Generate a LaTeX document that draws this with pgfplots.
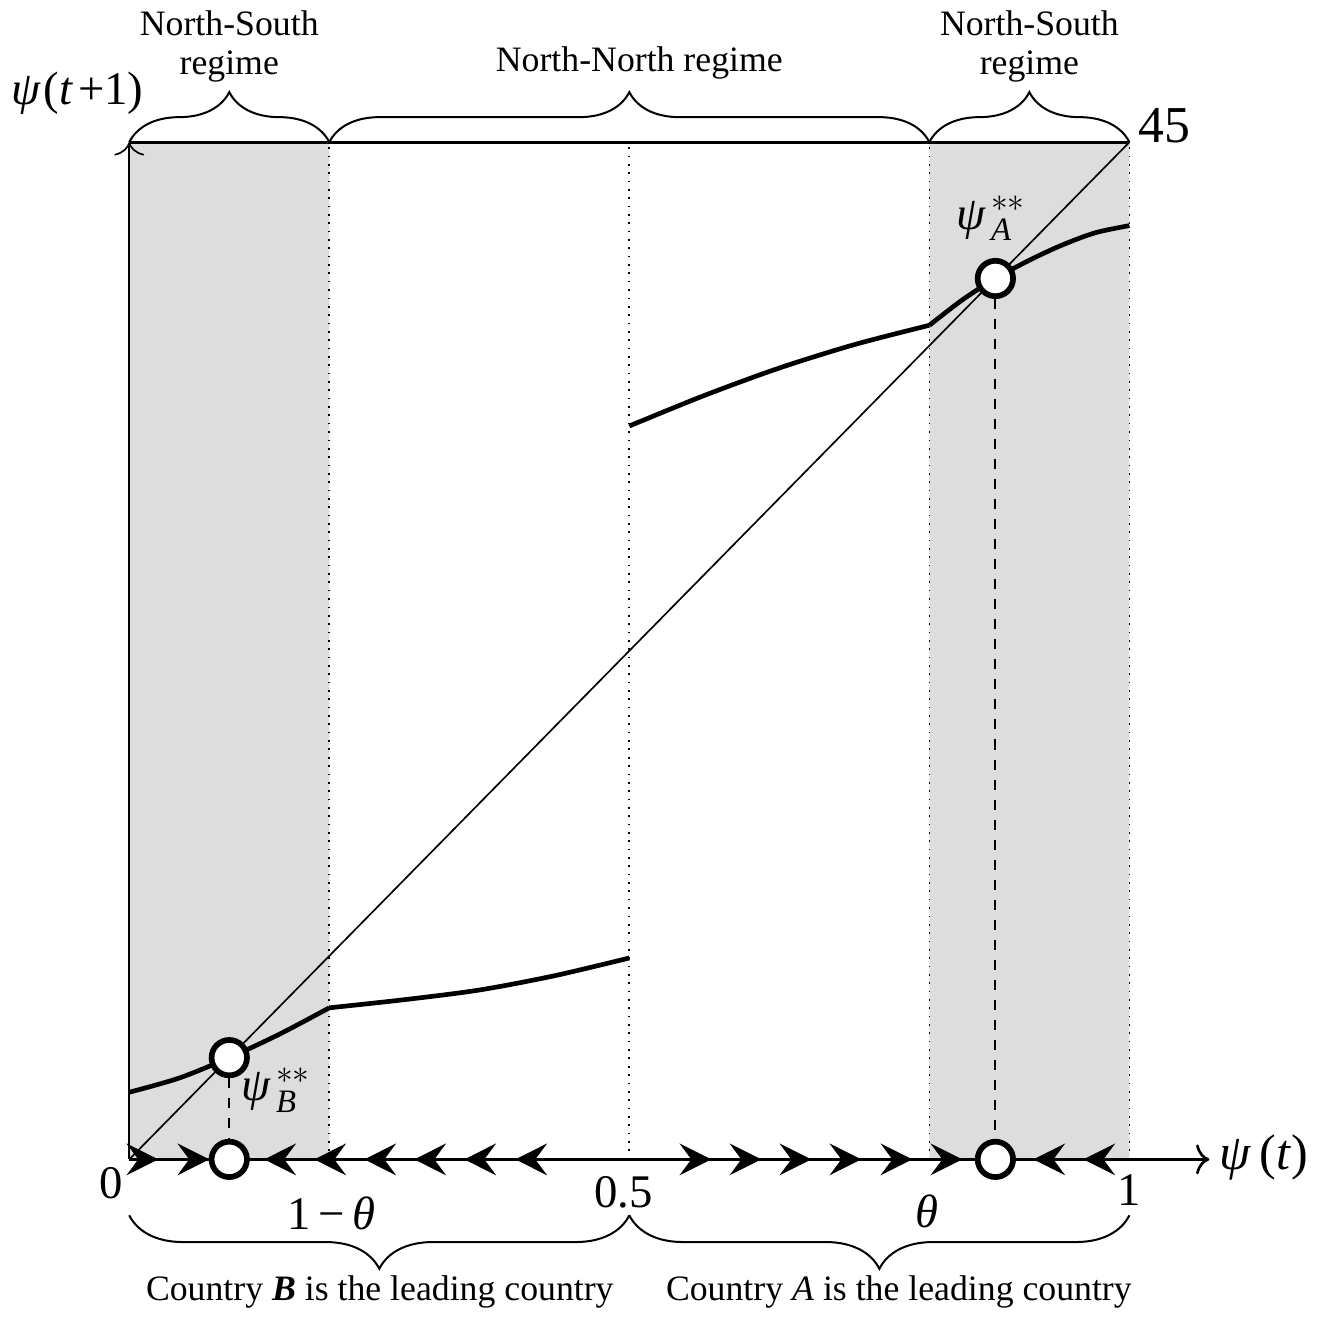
\documentclass[border=0pt]{standalone}
\usepackage{fontspec}
\setmainfont{Liberation Serif}
\usepackage{amsmath}
\usepackage{pgfplots}
\pgfplotsset{compat=1.18}
\usetikzlibrary{arrows.meta,decorations.pathreplacing}
\definecolor{shade}{RGB}{221,221,221}

\newcommand{\lbig}{\fontsize{14}{16}\selectfont}
\newcommand{\lmid}{\fontsize{10.7}{12.5}\selectfont}

\begin{document}
\begin{tikzpicture}
\begin{axis}[
    x=299.4pt, y=304.5pt,
    xmin=0, xmax=1, ymin=0, ymax=1,
    hide axis, clip=false,
]
% shaded North-South regimes
\addplot[fill=shade, draw=none] coordinates {(0,0) (0,1) (0.2,1) (0.2,0)} \closedcycle;
\addplot[fill=shade, draw=none] coordinates {(0.8,0) (0.8,1) (1,1) (1,0)} \closedcycle;

% regime boundaries
\addplot[dotted, line width=0.5pt] coordinates {(0.2,0) (0.2,1)};
\addplot[dotted, line width=0.5pt] coordinates {(0.5,0) (0.5,1)};
\addplot[dotted, line width=0.5pt] coordinates {(0.8,0) (0.8,1)};
\addplot[dotted, line width=0.5pt] coordinates {(1,0) (1,1)};

% frame lines and axes
\addplot[line width=0.9pt] coordinates {(0,1) (1,1)};
\addplot[line width=0.5pt, -{To[length=4pt,width=9pt]}] coordinates {(0,0) (0,1)};
\addplot[line width=0.8pt, -{To[length=4pt,width=9pt]}] coordinates {(0,0) (1.08,0)};

% 45 degree line
\addplot[line width=0.5pt] coordinates {(0,0) (1,1)};

% dynamics
\addplot[line width=1.4pt, smooth] coordinates {
    (0,0.066) (0.05,0.080) (0.1,0.1) (0.15,0.123) (0.2,0.149)};
\addplot[line width=1.4pt, smooth] coordinates {
    (0.2,0.149) (0.275,0.157) (0.35,0.1665) (0.425,0.1805) (0.5,0.198)};
\addplot[line width=1.4pt, smooth] coordinates {
    (0.5,0.721) (0.575,0.751) (0.65,0.778) (0.725,0.801) (0.8,0.820)};
\addplot[line width=1.4pt, smooth] coordinates {
    (0.8,0.82) (0.833,0.845) (0.866,0.866) (0.9,0.884) (0.933,0.899) (0.966,0.911) (1,0.918)};

% projections of the steady states
\addplot[dashed, line width=0.6pt] coordinates {(0.1,0.1) (0.1,0)};
\addplot[dashed, line width=0.6pt] coordinates {(0.866,0.866) (0.866,0)};

% direction arrows on the horizontal axis (tip at x+u)
\addplot[line width=0.8pt, quiver={u=\thisrow{u}, v=0},
    -{Stealth[length=9.5pt,width=9.5pt,inset=3.5pt]}] table {
x      y  u
0.019  0  0.01
0.070  0  0.01
0.145  0  -0.01
0.195  0  -0.01
0.245  0  -0.01
0.295  0  -0.01
0.345  0  -0.01
0.396  0  -0.01
0.572  0  0.01
0.622  0  0.01
0.672  0  0.01
0.722  0  0.01
0.773  0  0.01
0.823  0  0.01
0.914  0  -0.01
0.964  0  -0.01
};

% steady states
\addplot[only marks, mark=*, mark size=5.3pt,
    mark options={fill=white, draw=black, line width=1.7pt}] coordinates {
    (0.1,0.1) (0.1,0) (0.866,0.866) (0.866,0)};

% braces
\draw[decorate, decoration={brace, amplitude=15pt}, line width=0.6pt] (0,1) -- (0.2,1);
\draw[decorate, decoration={brace, amplitude=15pt}, line width=0.6pt] (0.2,1) -- (0.8,1);
\draw[decorate, decoration={brace, amplitude=15pt}, line width=0.6pt] (0.8,1) -- (1,1);
\draw[decorate, decoration={brace, amplitude=16pt}, line width=0.6pt] (0.5,-0.055) -- (0,-0.055);
\draw[decorate, decoration={brace, amplitude=16pt}, line width=0.6pt] (1,-0.055) -- (0.5,-0.055);

% text
\node[align=center, font=\lmid] at (0.1,1.094) {North-South\\[-1pt]regime};
\node[align=center, font=\lmid] at (0.9,1.094) {North-South\\[-1pt]regime};
\node[font=\lmid] at (0.51,1.078) {North-North regime};
\node[font=\lbig] at (-0.052,1.048) {\textit{ψ}\kern0.8pt(\textit{t}\kern1.5pt+1)};
\node[font=\fontsize{15}{17}\selectfont, anchor=west] at (1.078,0.002) {\textit{ψ}\,(\textit{t})};
\node[font=\fontsize{15.5}{17}\selectfont, anchor=west] at (0.997,1.016) {45};
\node[font=\lbig] at (0.862,0.925) {$\textit{ψ}^{\,**}_{\,\textit{A}}$};
\node[font=\lbig] at (0.147,0.068) {$\textit{ψ}^{\,**}_{\,\textit{B}}$};
\node[font=\lbig] at (-0.018,-0.023) {0};
\node[font=\lbig] at (0.202,-0.053) {1\,−\,\textit{θ}};
\node[font=\lbig] at (0.494,-0.032) {0.5};
\node[font=\lbig] at (0.798,-0.051) {\textit{θ}};
\node[font=\lbig] at (1,-0.03) {1};
\node[font=\lmid] at (0.2505,-0.13) {Country \textbf{\textit{B}} is the leading country};
\node[font=\lmid] at (0.7695,-0.13) {Country \textit{A} is the leading country};
\end{axis}
\end{tikzpicture}
\end{document}
